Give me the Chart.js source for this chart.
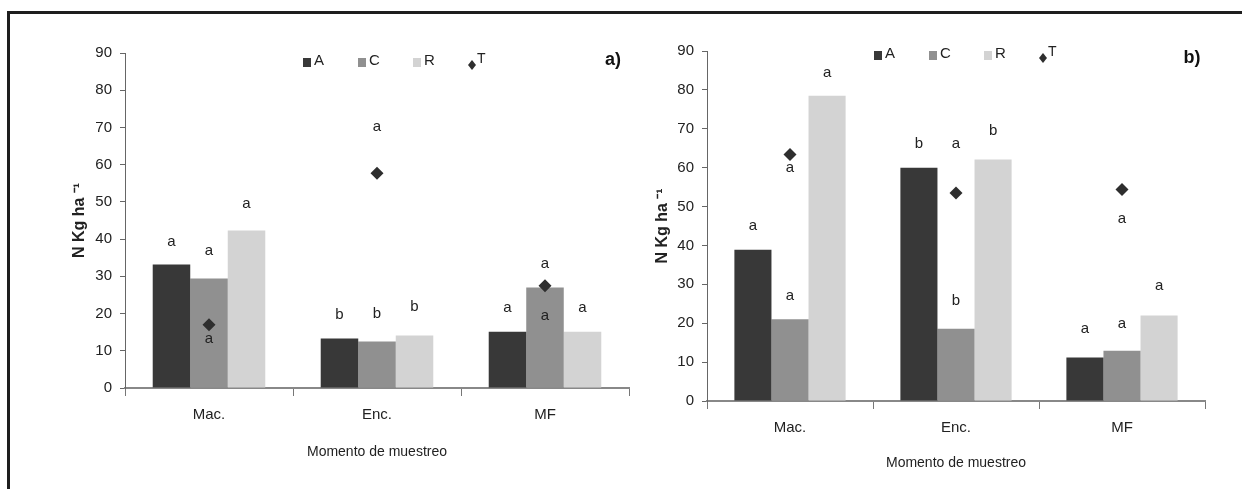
<!DOCTYPE html>
<html>
<head>
<meta charset="utf-8">
<script src="https://cdn.jsdelivr.net/npm/chart.js@4.4.0/dist/chart.umd.min.js"></script>
<style>
  html, body { margin: 0; padding: 0; background: #fff; }
  #page { position: relative; width: 1242px; height: 489px; overflow: hidden; background: #fff; }
  #frame { position: absolute; left: 7px; top: 11px; width: 1250px; height: 490px;
           border-top: 3px solid #1e1e1e; border-left: 3px solid #1e1e1e; box-sizing: border-box; }
  canvas { position: absolute; top: 0; }
  #cA { left: 0; }
  #cB { left: 640px; }
</style>
</head>
<body>
<div id="page">
  <div id="frame"></div>
  <canvas id="cA" width="640" height="489"></canvas>
  <canvas id="cB" width="602" height="489"></canvas>
</div>
<script>
// sampling moments
const categories = ['Mac.', 'Enc.', 'MF'];
const seriesNames = ['A', 'C', 'R', 'T'];
const yMax = 90;
const yStep = 10;

// panel a)
const aValuesA = [33.2, 13.3, 15.1];
const aValuesC = [29.4, 12.5, 27.0];
const aValuesR = [42.3, 14.1, 15.1];
const aValuesT = [17.0, 57.7, 27.5];
const aLettersA = ['a', 'b', 'a'];
const aLettersC = ['a', 'b', 'a'];
const aLettersR = ['a', 'b', 'a'];
const aLettersT = ['a', 'a', 'a'];

// panel b)
const bValuesA = [38.9, 60.0, 11.2];
const bValuesC = [21.0, 18.6, 12.9];
const bValuesR = [78.5, 62.1, 22.0];
const bValuesT = [63.4, 53.5, 54.4];
const bLettersA = ['a', 'b', 'a'];
const bLettersC = ['a', 'b', 'a'];
const bLettersR = ['a', 'b', 'a'];
const bLettersT = ['a', 'a', 'a'];

const colors = ['#383838', '#909090', '#d3d3d3', '#2e2e2e'];
const narrow = '"Liberation Sans Narrow", "Arial Narrow", "Liberation Sans", Arial, sans-serif';

Chart.defaults.font.family = narrow;
Chart.defaults.color = '#222';

// significance letters above / beside each mark
const lettersPlugin = {
    id: 'letters',
    afterDatasetsDraw(chart, args, opts) {
        const ctx = chart.ctx;
        ctx.save();
        ctx.font = '15px ' + narrow;
        ctx.fillStyle = '#222';
        ctx.textAlign = 'center';
        ctx.textBaseline = 'middle';
        opts.letters.forEach((arr, di) => {
            const meta = chart.getDatasetMeta(di);
            meta.data.forEach((el, i) => {
                ctx.fillText(arr[i], el.x, el.y + opts.offsets[di][i]);
            });
        });
        ctx.restore();
    }
};

// legend row + panel tag
const keyPlugin = {
    id: 'key',
    afterDraw(chart, args, opts) {
        const ctx = chart.ctx;
        ctx.save();
        ctx.textBaseline = 'middle';
        ctx.textAlign = 'left';
        seriesNames.forEach((name, i) => {
            const x = opts.x + i * opts.gap;
            const y = opts.y;
            ctx.fillStyle = colors[i];
            if (i < 3) {
                ctx.fillRect(x - 4, y - 4, 8, 9);
                ctx.fillStyle = '#222';
                ctx.font = '15px ' + narrow;
                ctx.fillText(name, x + 7, y - 1);
            } else {
                ctx.beginPath();
                ctx.moveTo(x, y - 5 + 3);
                ctx.lineTo(x + 4, y + 3);
                ctx.lineTo(x, y + 5 + 3);
                ctx.lineTo(x - 4, y + 3);
                ctx.closePath();
                ctx.fill();
                ctx.fillStyle = '#222';
                ctx.font = '14px ' + narrow;
                ctx.fillText(name, x + 5, y - 3);
            }
        });
        ctx.font = 'bold 18px "Liberation Sans", Arial, sans-serif';
        ctx.fillStyle = '#111';
        ctx.textAlign = 'center';
        ctx.fillText(opts.tag, opts.tagX, opts.tagY);
        ctx.restore();
    }
};

function makePanel(canvas, vals, letters, cfg) {
    return new Chart(canvas, {
        type: 'bar',
        data: {
            labels: categories,
            datasets: [
                { label: 'A', data: vals[0], backgroundColor: colors[0] },
                { label: 'C', data: vals[1], backgroundColor: colors[1] },
                { label: 'R', data: vals[2], backgroundColor: colors[2] },
                {
                    label: 'T', type: 'line', data: vals[3], showLine: false, order: -1,
                    pointStyle: 'rectRot', pointRadius: 6.5, pointHoverRadius: 6.5,
                    backgroundColor: colors[3], borderColor: colors[3], borderWidth: 0
                }
            ]
        },
        options: {
            responsive: false,
            animation: false,
            categoryPercentage: 0.67,
            barPercentage: 1.0,
            layout: { padding: cfg.padding },
            plugins: {
                legend: { display: false },
                tooltip: { enabled: false },
                letters: { letters: letters, offsets: cfg.offsets },
                key: cfg.key
            },
            scales: {
                x: {
                    grid: { display: true, drawOnChartArea: false, offset: true, tickLength: 8, color: '#777' },
                    border: { color: '#888', width: 2 },
                    ticks: { font: { size: 15 }, color: '#222', padding: 10 },
                    title: { display: true, text: 'Momento de muestreo', font: { size: 14 }, color: '#222', padding: 0 },
                    afterFit(scale) { scale.height = cfg.xHeight; }
                },
                y: {
                    min: 0, max: yMax,
                    grid: { display: true, drawOnChartArea: false, tickLength: 5, color: '#666' },
                    border: { color: '#666', width: 1 },
                    ticks: { stepSize: yStep, font: { size: 15 }, color: '#222', padding: 8 },
                    title: {
                        display: true, text: 'N Kg ha \u207B\u00B9', color: '#222', padding: 0,
                        font: { size: 16, weight: 'bold', family: '"Liberation Sans", Arial, sans-serif' }
                    },
                    afterFit(scale) { scale.width = cfg.yWidth; }
                }
            }
        },
        plugins: [lettersPlugin, keyPlugin]
    });
}

makePanel(document.getElementById('cA'),
    [aValuesA, aValuesC, aValuesR, aValuesT],
    [aLettersA, aLettersC, aLettersR, aLettersT],
    {
        padding: { left: 70, right: 11, top: 53, bottom: 28 },
        yWidth: 55, xHeight: 73,
        offsets: [[-23, -24, -24], [-28, -28, 28], [-27, -29, -24], [14, -46, -22]],
        key: { x: 307, y: 62, gap: 55, tag: 'a)', tagX: 613, tagY: 60 }
    });

makePanel(document.getElementById('cB'),
    [bValuesA, bValuesC, bValuesR, bValuesT],
    [bLettersA, bLettersC, bLettersR, bLettersT],
    {
        padding: { left: 13, right: 37, top: 51, bottom: 17 },
        yWidth: 54, xHeight: 71,
        offsets: [[-24, -24, -29], [-23, -28, -27], [-23, -29, -30], [13, -49, 29]],
        key: { x: 238, y: 55, gap: 55, tag: 'b)', tagX: 552, tagY: 58 }
    });
</script>
</body>
</html>
